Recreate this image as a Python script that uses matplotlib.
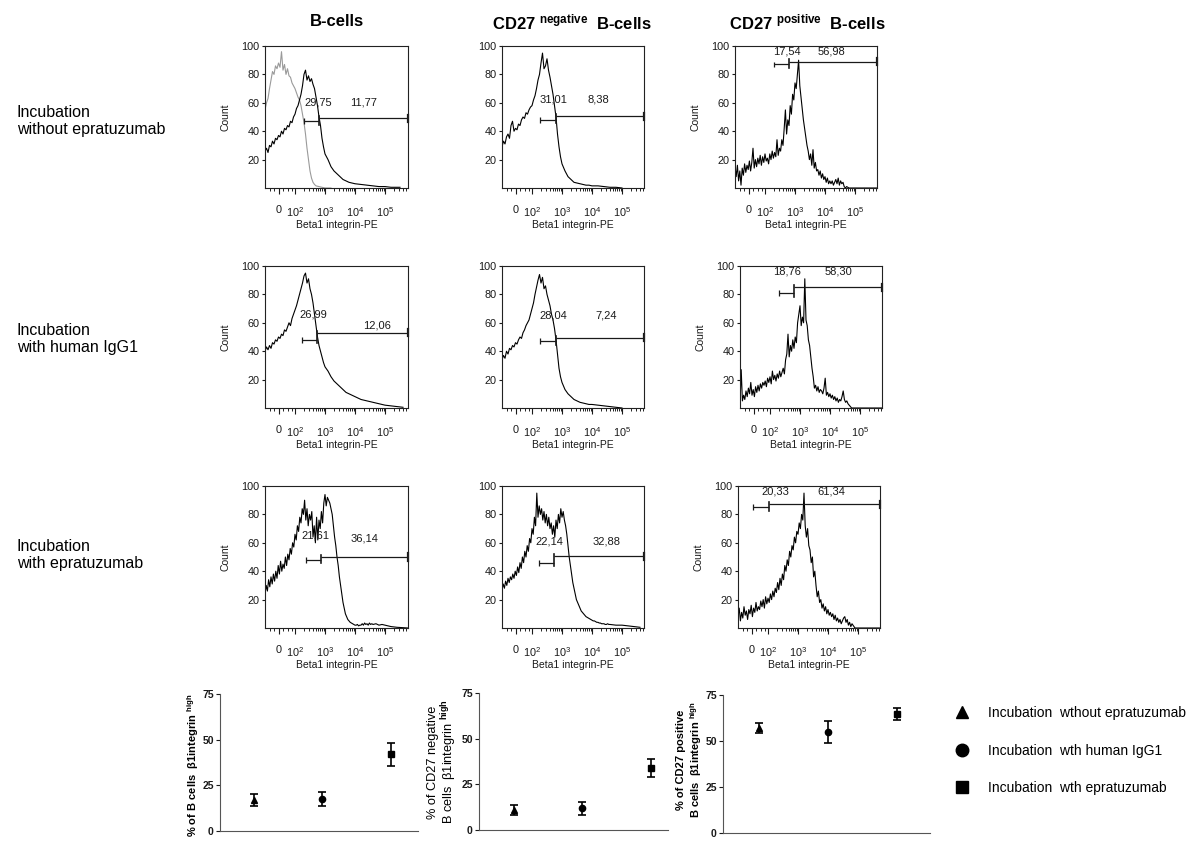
import matplotlib
matplotlib.use('Agg')
import matplotlib.pyplot as plt
from matplotlib.lines import Line2D
import numpy as np

plt.rcParams['font.family'] = ['Liberation Sans', 'DejaVu Sans']
plt.rcParams['mathtext.fontset'] = 'custom'
plt.rcParams['mathtext.rm'] = 'Liberation Sans'
plt.rcParams['mathtext.it'] = 'Liberation Sans:italic'
plt.rcParams['mathtext.bf'] = 'Liberation Sans:bold'

# ---------------- data ----------------
col_titles = ['B-cells', 'CD27 $^{\\mathbf{negative}}$  B-cells', 'CD27 $^{\\mathbf{positive}}$  B-cells']
row_labels = ['Incubation\nwithout epratuzumab', 'Incubation\nwith human IgG1', 'Incubation\nwith epratuzumab']

xtick_pos = [1.45, 2, 3, 4, 5]
xtick_labels = ['0', '$10^2$', '$10^3$', '$10^4$', '$10^5$']
ytick_vals = [20, 40, 60, 80, 100]

# channel positions (decade units of the biexponential axis)
coarse = [1.00, 1.05, 1.10, 1.15, 1.20, 1.25, 1.30, 1.35, 1.40, 1.45,
          1.50, 1.55, 1.60, 1.65, 1.70, 1.75, 1.80, 1.85, 1.90, 1.95,
          2.00, 2.05, 2.10, 2.15, 2.20, 2.25, 2.30, 2.35, 2.40, 2.45,
          2.50, 2.55, 2.60, 2.65, 2.70, 2.75, 2.80, 2.85, 2.90, 2.95]
tail_a = [3.0, 3.1, 3.2, 3.3, 3.4, 3.5, 3.6, 3.7, 3.8, 3.9, 4.0]
tail_b = [4.2, 4.4, 4.6, 4.8, 5.0]
fine = [1.00, 1.04, 1.08, 1.12, 1.16, 1.20, 1.24, 1.28, 1.32, 1.36,
        1.40, 1.44, 1.48, 1.52, 1.56, 1.60, 1.64, 1.68, 1.72, 1.76,
        1.80, 1.84, 1.88, 1.92, 1.96, 2.00, 2.04, 2.08, 2.12, 2.16,
        2.20, 2.24, 2.28, 2.32, 2.36, 2.40, 2.44, 2.48, 2.52, 2.56,
        2.60, 2.64, 2.68, 2.72, 2.76, 2.80, 2.84, 2.88, 2.92, 2.96,
        3.00, 3.04, 3.08, 3.12, 3.16, 3.20, 3.24, 3.28, 3.32, 3.36,
        3.40, 3.44, 3.48, 3.52, 3.56, 3.60, 3.64, 3.68, 3.72, 3.76,
        3.80, 3.84, 3.88, 3.92, 3.96, 4.00, 4.04, 4.08, 4.12, 4.16,
        4.20, 4.24, 4.28, 4.32, 4.36, 4.40, 4.44, 4.48, 4.52, 4.56]

# Row 1, B-cells: isotype control (grey) and stained (black)
r1c1_ctrl_x = coarse[:35] + [2.8, 2.9, 3.0, 3.2]
r1c1_ctrl_y = [55, 60, 63, 70, 76, 82, 80, 86, 84, 88,
               85, 96, 83, 87, 80, 84, 79, 78, 74, 72,
               70, 67, 64, 62, 58, 52, 46, 38, 28, 20,
               12, 7, 4, 2.5, 1.5, 1, 0.5, 0, 0]
r1c1_x = coarse + tail_a + [4.2, 4.4, 4.6, 4.8, 5.0, 5.2, 5.5]
r1c1_y = [26, 28, 25, 30, 29, 33, 31, 35, 34, 37,
          36, 40, 38, 42, 41, 44, 43, 47, 46, 50,
          52, 56, 58, 62, 66, 72, 80, 83, 76, 79,
          75, 77, 73, 70, 64, 58, 50, 44, 35, 29,
          24, 20, 15, 12, 10, 8, 6, 5, 4, 3.5, 3,
          2.5, 2, 1.5, 1, 1, 0.5, 0.5]
r1c2_x = coarse + tail_a + tail_b
r1c2_y = [29, 33, 31, 36, 38, 35, 44, 47, 40, 42,
          41, 45, 44, 48, 50, 49, 53, 52, 55, 57,
          58, 62, 65, 70, 76, 80, 88, 95, 84, 86,
          91, 83, 78, 72, 66, 58, 50, 38, 29, 22,
          17, 12, 8, 6, 4, 3.5, 3, 2.5, 2, 2, 1.5,
          1.5, 1, 0.5, 0.5, 0]
r1c3_x = fine + [4.60, 4.64, 4.68, 4.72, 4.80, 5.00, 5.40, 5.73]
r1c3_y = [15, 8, 16, 5, 12, 2, 14, 9, 17, 11,
          16, 13, 19, 12, 18, 28, 14, 20, 15, 21,
          17, 23, 16, 22, 18, 24, 19, 21, 17, 24,
          20, 26, 21, 25, 22, 34, 23, 28, 26, 34,
          30, 42, 55, 38, 48, 44, 58, 52, 66, 62,
          74, 70, 80, 90, 72, 64, 56, 48, 42, 36,
          30, 26, 20, 24, 16, 27, 14, 18, 12, 13,
          9, 12, 7, 10, 6, 8, 4, 7, 3, 5,
          3, 5, 2, 4, 6, 3, 7, 2, 5, 3,
          4, 1, 0, 1, 0, 0, 0, 0]

r2c1_x = coarse + [3.0, 3.1, 3.2, 3.3, 3.4, 3.5, 3.6, 3.7, 3.8, 3.9] + [4.0, 4.2, 4.4, 4.6, 4.8, 5.0, 5.2, 5.4, 5.6]
r2c1_y = [40, 43, 41, 44, 42, 46, 45, 48, 47, 50,
          49, 52, 51, 55, 54, 57, 60, 58, 63, 66,
          69, 72, 76, 80, 84, 88, 93, 95, 88, 91,
          84, 80, 74, 66, 58, 50, 44, 40, 36, 32,
          29, 26, 22, 19, 17, 15, 13, 11, 10, 9,
          8, 6, 5, 4, 3, 2, 1.5, 1, 0.5]
r2c2_x = coarse + tail_a + tail_b
r2c2_y = [34, 37, 35, 40, 38, 42, 41, 44, 43, 46,
          45, 48, 50, 49, 53, 55, 58, 60, 62, 66,
          70, 74, 80, 85, 90, 94, 88, 92, 84, 86,
          80, 76, 72, 66, 62, 56, 48, 38, 28, 22,
          18, 13, 10, 8, 6, 5, 4, 3.5, 3, 2.5, 2.5,
          2, 1.5, 1, 0.5, 0]
r2c3_x = fine + [4.60, 4.64, 4.68, 4.72, 4.80, 5.00, 5.40, 5.73]
r2c3_y = [3, 27, 5, 9, 6, 12, 8, 14, 10, 18,
          9, 13, 8, 15, 11, 16, 12, 17, 14, 18,
          16, 19, 15, 21, 18, 22, 17, 26, 20, 23,
          19, 24, 21, 26, 22, 25, 28, 24, 34, 38,
          52, 36, 44, 40, 48, 42, 50, 46, 60, 66,
          72, 58, 64, 60, 91, 62, 58, 48, 44, 36,
          28, 22, 14, 16, 12, 15, 11, 13, 12, 10,
          14, 21, 9, 11, 8, 10, 7, 9, 6, 8,
          5, 7, 4, 6, 5, 8, 12, 6, 4, 5,
          3, 2, 1, 0, 0, 0, 0, 0]

r3c1_x = fine + [4.60, 4.70, 4.80, 4.90, 5.00, 5.10, 5.20, 5.40, 5.77]
r3c1_y = [24, 30, 26, 34, 29, 36, 31, 38, 33, 40,
          35, 44, 38, 47, 40, 45, 42, 50, 44, 52,
          48, 56, 52, 60, 57, 66, 62, 72, 68, 78,
          74, 84, 80, 90, 76, 84, 72, 80, 76, 82,
          64, 72, 60, 78, 62, 76, 70, 82, 74, 88,
          94, 86, 92, 90, 88, 84, 80, 72, 64, 58,
          50, 44, 36, 30, 24, 18, 14, 10, 8, 6,
          5, 4, 3.5, 3, 2.5, 2, 2, 2.5, 1.5, 2,
          2, 3, 2, 3.5, 2.5, 3, 2, 3.5, 2.5, 3,
          2.5, 3, 2, 2.5, 2, 1.5, 1, 0.5, 0]
r3c2_x = fine + [4.60, 4.80, 5.00, 5.20, 5.40, 5.60]
r3c2_y = [27, 31, 28, 33, 30, 35, 32, 36, 34, 38,
          35, 40, 37, 43, 39, 46, 42, 50, 46, 54,
          50, 58, 54, 63, 60, 70, 66, 78, 72, 95,
          78, 86, 80, 84, 76, 82, 74, 80, 72, 78,
          70, 74, 66, 72, 64, 76, 70, 80, 74, 84,
          78, 82, 76, 72, 66, 58, 50, 44, 38, 32,
          28, 24, 20, 18, 16, 14, 12, 11, 10, 9,
          8, 7.5, 7, 6.5, 6, 5.5, 5, 5, 4.5, 4,
          4, 3.5, 3.5, 3, 3, 3, 2.5, 2.5, 3, 2.5,
          2.5, 2, 2, 1.5, 1, 0.5]
r3c3_x = fine + [4.60, 4.64, 4.68, 4.72, 4.76, 4.80, 4.90, 5.00, 5.40, 5.73]
r3c3_y = [8, 14, 5, 11, 7, 15, 9, 12, 6, 13,
          10, 16, 8, 14, 11, 18, 12, 15, 13, 19,
          15, 20, 14, 22, 17, 21, 18, 24, 20, 26,
          22, 28, 25, 32, 27, 35, 30, 38, 34, 44,
          40, 48, 44, 54, 50, 58, 55, 64, 60, 68,
          66, 74, 70, 80, 76, 95, 72, 64, 70, 58,
          55, 46, 50, 36, 40, 30, 22, 26, 18, 20,
          14, 17, 12, 15, 10, 13, 9, 11, 8, 10,
          6, 9, 5, 7, 4, 6, 3, 5, 7, 8,
          4, 6, 2, 4, 1, 3, 0, 0, 0, 0]

# gates: (short start, short end, short level, long level); long gate runs to the axis end
gates = [[(2.30, 2.81, 47, 49), (2.27, 2.80, 48, 50.5), (2.30, 2.80, 87, 89)],
         [(2.23, 2.73, 48, 53), (2.27, 2.80, 47, 49.5), (2.31, 2.80, 81, 85)],
         [(2.37, 2.86, 48, 50), (2.23, 2.73, 46, 50.5), (1.50, 2.03, 85, 87)]]
gate_texts = [[[('29,75', 2.77, 60), ('11,77', 4.28, 60)],
               [('31,01', 2.71, 62), ('8,38', 4.21, 62)],
               [('17,54', 2.72, 96), ('56,98', 4.22, 96)]],
              [[('26,99', 2.60, 66), ('12,06', 4.73, 58)],
               [('28,04', 2.70, 65), ('7,24', 4.47, 65)],
               [('18,76', 2.58, 96), ('58,30', 4.28, 96)]],
              [[('21,61', 2.67, 65), ('36,14', 4.33, 63)],
               [('22,14', 2.57, 61), ('32,88', 4.47, 61)],
               [('20,33', 2.23, 96), ('61,34', 4.10, 96)]]]

hist_x = [[r1c1_x, r1c2_x, r1c3_x], [r2c1_x, r2c2_x, r2c3_x], [r3c1_x, r3c2_x, r3c3_x]]
hist_y = [[r1c1_y, r1c2_y, r1c3_y], [r2c1_y, r2c2_y, r2c3_y], [r3c1_y, r3c2_y, r3c3_y]]

# summary (mean, error) per condition
conditions = ['Incubation  wthout epratuzumab', 'Incubation  wth human IgG1', 'Incubation  wth epratuzumab']
cond_markers = ['^', 'o', 's']
bcells_mean = [17.0, 17.7, 42.0]
bcells_err = [3.3, 3.9, 6.4]
cd27neg_mean = [11.0, 11.8, 34.0]
cd27neg_err = [2.8, 3.6, 5.0]
cd27pos_mean = [57.0, 55.0, 64.5]
cd27pos_err = [2.8, 6.0, 3.2]
summary_ticks = [0, 25, 50, 75]

# ---------------- layout ----------------
W, H = 1200, 858
fig = plt.figure(figsize=(12, 8.58), dpi=100)
fig.patch.set_facecolor('white')


def rect(l, t, r, b):
    return [l / W, 1 - b / H, (r - l) / W, (b - t) / H]


boxes = [[(265, 46, 408, 188), (502, 46, 644, 188), (735, 46, 877, 188)],
         [(265, 266, 408, 408), (502, 266, 644, 408), (740, 266, 882, 408)],
         [(265, 486, 408, 628), (502, 486, 644, 628), (738, 486, 880, 628)]]
title_x = [337, 572, 807]
row_label_y = [121, 339, 555]

minor_pos = [1.15, 1.3, 1.6, 1.75, 1.9]
for d in [2, 3, 4, 5]:
    for k in range(2, 10):
        minor_pos.append(d + np.log10(k))

TXT = '#1a1a1a'
for c, t in enumerate(col_titles):
    fig.text(title_x[c] / W, 1 - 22 / H, t, ha='center', va='center',
             fontsize=12, fontweight='bold')
for r, t in enumerate(row_labels):
    fig.text(17 / W, 1 - row_label_y[r] / H, t, ha='left', va='center',
             fontsize=11.5, linespacing=1.1)

for r in range(3):
    for c in range(3):
        l, t, rr, b = boxes[r][c]
        xmax = 1 + (rr - l) / 30.0
        ax = fig.add_axes(rect(l, t, rr, b))
        if r == 0 and c == 0:
            ax.plot(r1c1_ctrl_x, r1c1_ctrl_y, color='#9a9a9a', lw=0.8)
        ax.plot(hist_x[r][c], hist_y[r][c], color='black', lw=0.8)
        ax.set_xlim(1.0, xmax)
        ax.set_ylim(0, 100)
        ax.set_yticks(ytick_vals)
        ax.set_yticklabels([str(v) for v in ytick_vals])
        ax.set_xticks(xtick_pos)
        ax.set_xticklabels(xtick_labels)
        ax.set_xticks([m for m in minor_pos if m < xmax], minor=True)
        ax.tick_params(axis='x', which='major', length=4.5, width=0.8, pad=8,
                       labelsize=7.8, direction='out', colors=TXT)
        ax.tick_params(axis='x', which='minor', length=2.2, width=0.6, direction='out')
        ax.tick_params(axis='y', which='major', length=2.5, width=0.8, pad=1.5,
                       labelsize=7.8, direction='out', colors=TXT)
        for s in ax.spines.values():
            s.set_linewidth(0.8)
            s.set_color('#222222')
        ax.set_xlabel('Beta1 integrin-PE', fontsize=7.5, color=TXT)
        ax.xaxis.set_label_coords(0.5, -0.225)
        if c != 1:
            ax.set_ylabel('Count', fontsize=7.5, color=TXT)
            ax.yaxis.set_label_coords(-0.24, 0.5)
        a, bb, y1, y2 = gates[r][c]
        kw = dict(color='#1a1a1a', lw=0.9, clip_on=False, solid_capstyle='butt')
        ax.plot([a, bb], [y1, y1], **kw)
        ax.plot([a, a], [y1 - 2, y1 + 2], **kw)
        ax.plot([bb, bb], [min(y1, y2) - 2.5, max(y1, y2) + 1.5], color='#1a1a1a', lw=1.2,
                clip_on=False)
        ax.plot([bb, xmax], [y2, y2], **kw)
        ax.plot([xmax, xmax], [y2 - 2.5, y2 + 2.5], color='#1a1a1a', lw=1.6, clip_on=False)
        for s, tx, ty in gate_texts[r][c]:
            ax.text(tx, ty, s, ha='center', va='center', fontsize=8, color=TXT)

# ---------------- summary panels ----------------
sum_boxes = [(220, 694, 418, 831), (479, 693, 668, 830), (723, 695, 930, 833)]
sum_xlims = [(0.5, 3.4), (0.49, 3.25), (0.48, 3.48)]
sum_means = [bcells_mean, cd27neg_mean, cd27pos_mean]
sum_errs = [bcells_err, cd27neg_err, cd27pos_err]
sum_labels = ['% of B cells  \u03b21integrin $^{\\mathbf{high}}$',
              '% of CD27 negative\nB cells  \u03b21integrin $^{\\mathbf{high}}$',
              '% of CD27 positive\nB cells  \u03b21integrin $^{\\mathbf{high}}$']
sum_label_pos = [(193, 765), (443, 762), (690, 760)]
sum_label_style = [dict(fontsize=8, fontweight='bold'),
                   dict(fontsize=9.2, fontweight='normal', linespacing=1.0),
                   dict(fontsize=8, fontweight='bold', linespacing=1.15)]

positions = [1, 2, 3]
for i in range(3):
    l, t, rr, b = sum_boxes[i]
    ax = fig.add_axes(rect(l, t, rr, b))
    for j in range(3):
        ax.errorbar(positions[j], sum_means[i][j], yerr=sum_errs[i][j],
                    fmt=cond_markers[j], color='black', ms=5 if j == 0 else 4.5,
                    capsize=3, elinewidth=1.2, capthick=1.2)
    ax.set_xlim(*sum_xlims[i])
    ax.set_ylim(0, 75)
    ax.set_yticks(summary_ticks)
    ax.set_yticklabels([str(v) for v in summary_ticks], fontweight='bold')
    ax.set_xticks([])
    ax.spines['top'].set_visible(False)
    ax.spines['right'].set_visible(False)
    ax.spines['left'].set_color('#555555')
    ax.spines['bottom'].set_color('#555555')
    ax.tick_params(axis='y', length=3, width=0.8, pad=1.5, labelsize=7.5, colors='#1a1a1a')
    lx, ly = sum_label_pos[i]
    fig.text(lx / W, 1 - ly / H, sum_labels[i], rotation=90, ha='center', va='center',
             multialignment='center', **sum_label_style[i])

handles = [Line2D([], [], ls='none', marker=m, color='black', ms=9) for m in cond_markers]
fig.legend(handles, conditions, loc='upper left', bbox_to_anchor=(955 / W, 1 - 706 / H),
           bbox_transform=fig.transFigure, frameon=False, fontsize=10, handlelength=1.0,
           handletextpad=1.37, labelspacing=1.7, borderpad=0, borderaxespad=0)

fig.savefig('out.png', dpi=100, facecolor='white')
